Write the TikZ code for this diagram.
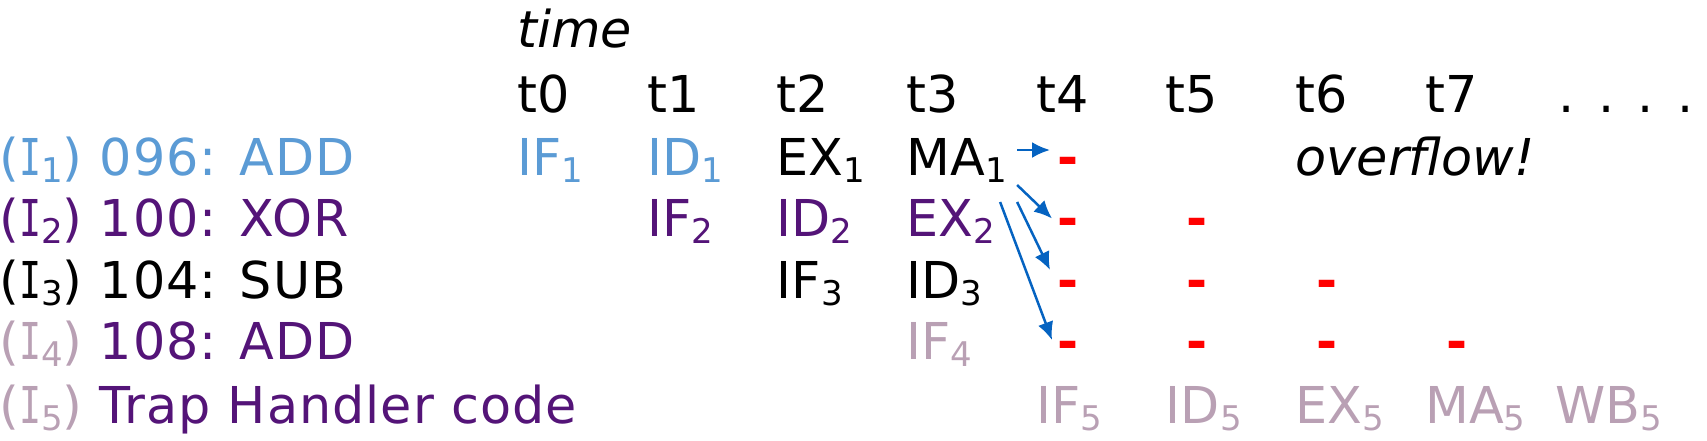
\documentclass[tikz,border=0pt]{standalone}
\usepackage{fontspec}
\setmainfont{DejaVu Sans}
\newfontfamily\slabfont{DejaVu Sans Mono}
\usepackage{tikz}
\usetikzlibrary{arrows.meta}

\definecolor{insblue}{RGB}{91,155,213}
\definecolor{inspurple}{RGB}{84,20,120}
\definecolor{insmauve}{RGB}{185,160,180}
\definecolor{flowblue}{RGB}{5,99,193}
\newcommand{\subn}[1]{\raisebox{-3.5pt}{\fontsize{17}{17}\selectfont #1}}
\newcommand{\insn}[1]{(\scalebox{0.72}[1]{\slabfont I}\subn{#1})}

\begin{document}
\begin{tikzpicture}[x=0.5pt, y=-0.5pt,
    every node/.style={inner sep=0pt, anchor=base west, font=\fontsize{25.4}{30}\selectfont},
    label/.style={font=\fontsize{25.4}{30}\selectfont\addfontfeature{LetterSpace=2}},
    flush/.style={text=red, font=\fontsize{25.4}{30}\selectfont\bfseries},
    flow/.style={-{Latex[length=9pt, width=8pt]}, every edge/.style={draw=flowblue, line width=1.25pt}}]
  \useasboundingbox (0,0) rectangle (1707,440);

  % time axis
  \node (time) at (517,47) {\itshape time};
  \node (t0) at (517,112) {t0};
  \node (t1) at (646.7,112) {t1};
  \node (t2) at (776.4,112) {t2};
  \node (t3) at (906.1,112) {t3};
  \node (t4) at (1035.8,112) {t4};
  \node (t5) at (1165.5,112) {t5};
  \node (t6) at (1295.2,112) {t6};
  \node (t7) at (1424.9,112) {t7};
  \node (dots) at (1558,112) {.\hspace{11.75pt}.\hspace{11.75pt}.\hspace{11.75pt}.};

  % instructions
  \node[label, text=insblue] (i1) at (-1,175) {\insn{1} 096: ADD};
  \node[label, text=inspurple] (i2) at (-1,236.5) {\insn{2} 100: XOR};
  \node[label] (i3) at (-1,298) {\insn{3} 104: SUB};
  \node[label, text=inspurple] (i4) at (-1,359.5) {{\color{insmauve}\insn{4}} 108: ADD};
  \node[label, text=inspurple] (i5) at (-1,423) {{\color{insmauve}\insn{5}} Trap Handler code};

  % pipeline stages
  \node[text=insblue] (if1) at (517,175) {IF\subn{1}};
  \node[text=insblue] (id1) at (646.7,175) {ID\subn{1}};
  \node (ex1) at (776.4,175) {EX\subn{1}};
  \node (ma1) at (906.1,175) {MA\subn{1}};
  \node (ovf) at (1295.2,175) {\itshape overflow!};

  \node[text=inspurple] (if2) at (646.7,236.5) {IF\subn{2}};
  \node[text=inspurple] (id2) at (776.4,236.5) {ID\subn{2}};
  \node[text=inspurple] (ex2) at (906.1,236.5) {EX\subn{2}};

  \node (if3) at (776.4,298) {IF\subn{3}};
  \node (id3) at (906.1,298) {ID\subn{3}};

  \node[text=insmauve] (if4) at (906.1,359.5) {IF\subn{4}};

  \node[text=insmauve] (if5) at (1035.8,423) {IF\subn{5}};
  \node[text=insmauve] (id5) at (1165.5,423) {ID\subn{5}};
  \node[text=insmauve] (ex5) at (1295.2,423) {EX\subn{5}};
  \node[text=insmauve] (ma5) at (1424.9,423) {MA\subn{5}};
  \node[text=insmauve] (wb5) at (1554.6,423) {WB\subn{5}};

  % flushed slots
  \node[flush] (d14) at (1057,175) {-};
  \node[flush] (d24) at (1057,236.5) {-};
  \node[flush] (d25) at (1186.5,236.5) {-};
  \node[flush] (d34) at (1057,298) {-};
  \node[flush] (d35) at (1186.5,298) {-};
  \node[flush] (d36) at (1316,298) {-};
  \node[flush] (d44) at (1057,359.5) {-};
  \node[flush] (d45) at (1186.5,359.5) {-};
  \node[flush] (d46) at (1316,359.5) {-};
  \node[flush] (d47) at (1446,359.5) {-};

  \path[flow]
  ([shift={(10,-25)}]ma1.base east) edge ([shift={(-7,-25)}]d14.base west)
  ([shift={(10,10)}]ma1.base east) edge ([shift={(-5,-18)}]d24.base west)
  ([shift={(10,27)}]ma1.base east) edge ([shift={(-7,-28)}]d34.base west)
  ([shift={(-7,27)}]ma1.base east) edge ([shift={(-5,-19.5)}]d44.base west);
\end{tikzpicture}
\end{document}
